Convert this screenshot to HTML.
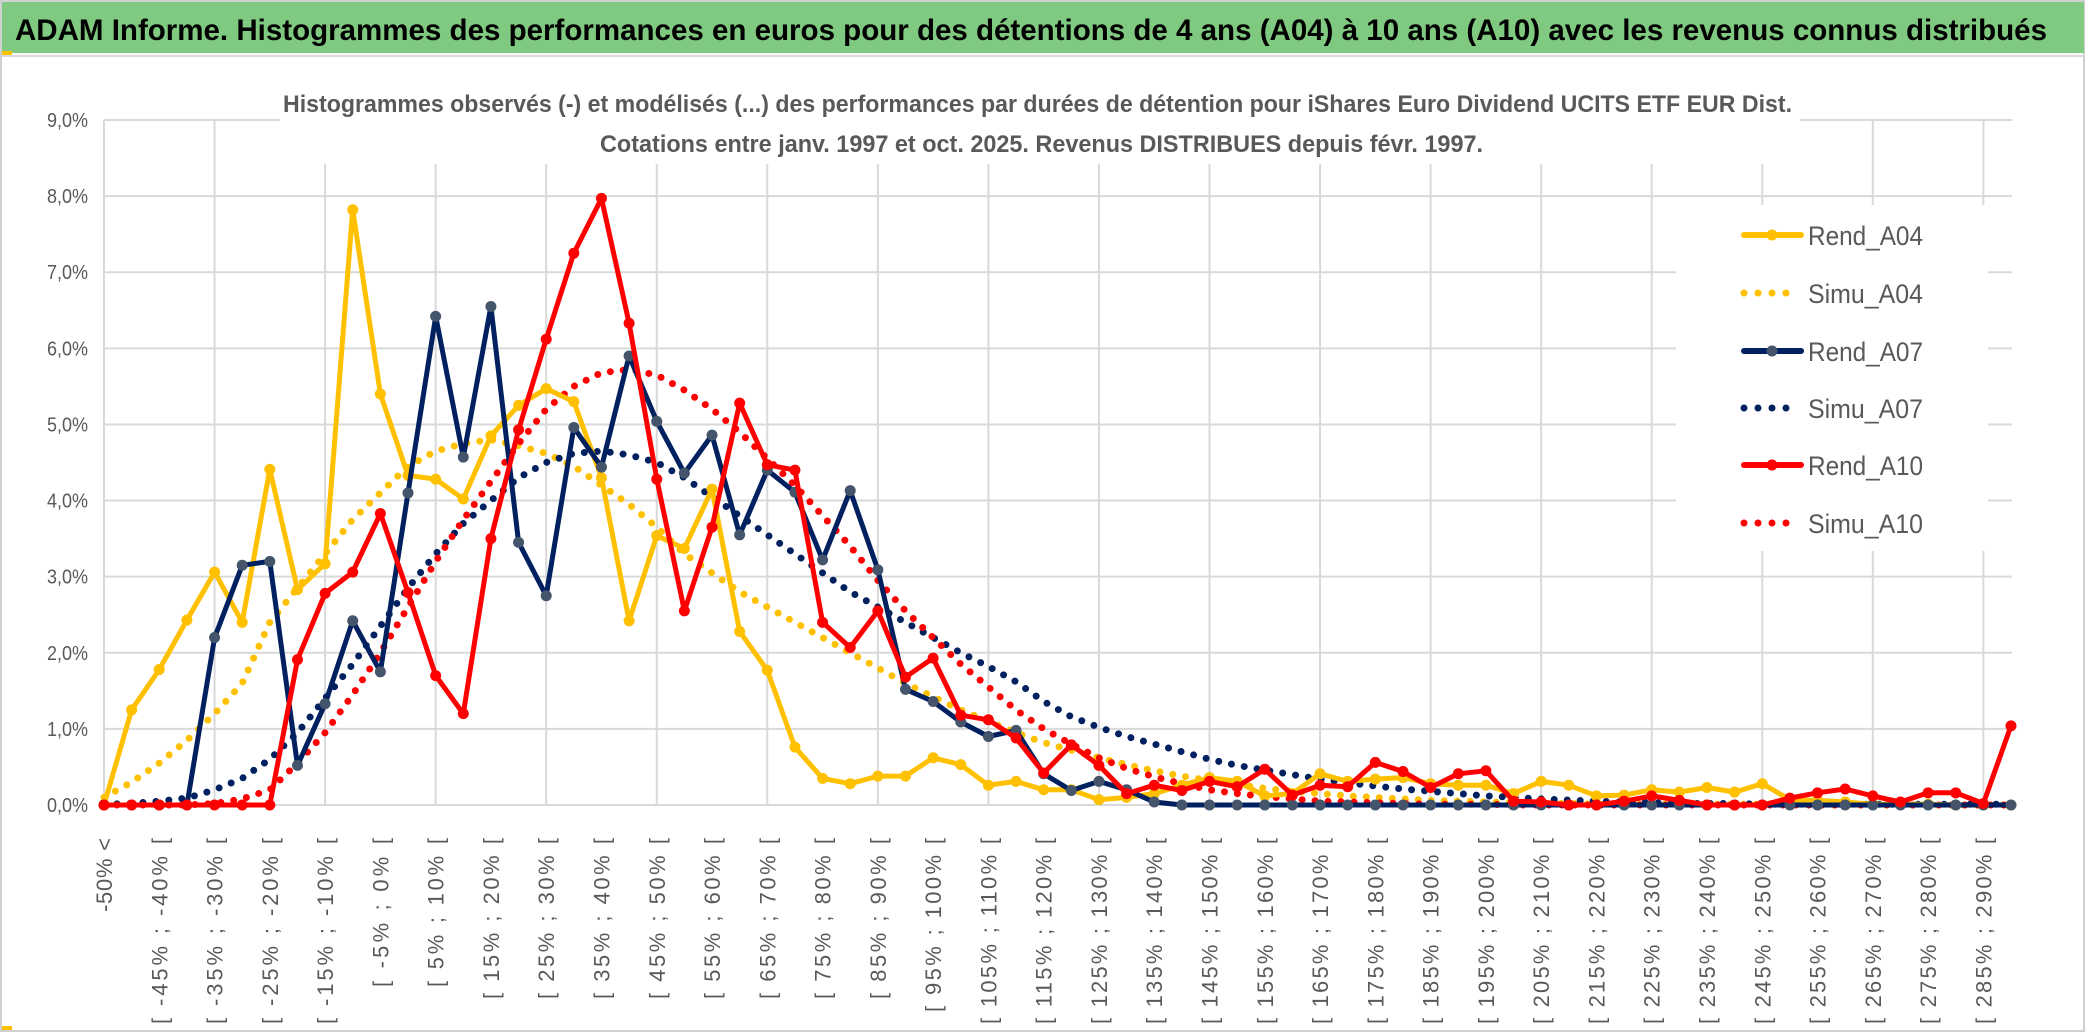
<!DOCTYPE html>
<html><head><meta charset="utf-8">
<style>
html,body{margin:0;padding:0;background:#fff;}
svg{display:block;}
text{font-family:"Liberation Sans",sans-serif;}
</style></head>
<body>
<svg id="chart" width="2086" height="1033" viewBox="0 0 2086 1033" xmlns="http://www.w3.org/2000/svg">
  <rect x="1" y="1" width="2083" height="1030" fill="#fff" stroke="#d0d0d0" stroke-width="2"/>
  <rect x="2" y="2" width="2082" height="51" fill="#80C980"/>
  <line x1="2" y1="56" x2="2084" y2="56" stroke="#d9d9d9" stroke-width="2"/>
  <rect x="2" y="51" width="10" height="4" fill="#FFC000"/>
  <rect x="2" y="1026" width="10" height="4" fill="#FFC000"/>
  <text x="15" y="40" font-size="30" font-weight="bold" fill="#000" textLength="2032" lengthAdjust="spacingAndGlyphs">ADAM Informe. Histogrammes des performances en euros pour des détentions de 4 ans (A04) à 10 ans (A10) avec les revenus connus distribués</text>
  <g id="grid"></g>
  <rect x="280" y="78" width="1520" height="86" fill="#fff"/>
  <text x="283" y="112" font-size="24" font-weight="bold" fill="#595959" textLength="1509" lengthAdjust="spacingAndGlyphs">Histogrammes observés (-) et modélisés (...) des performances par durées de détention pour iShares Euro Dividend UCITS ETF EUR Dist.</text>
  <text x="600" y="152" font-size="24" font-weight="bold" fill="#595959" textLength="883" lengthAdjust="spacingAndGlyphs">Cotations entre janv. 1997 et oct. 2025. Revenus DISTRIBUES depuis févr. 1997.</text>
  <g id="yaxis"></g>
  <g id="xaxis"></g>
  <g id="series"></g>
  <g id="legend">
    <rect x="1676" y="205" width="312" height="346" fill="#fff"/>
  </g>
</svg>
<script>
const categories = ["-50% <","[ -50% ; -45% [","[ -45% ; -40% [","[ -40% ; -35% [","[ -35% ; -30% [","[ -30% ; -25% [","[ -25% ; -20% [","[ -20% ; -15% [","[ -15% ; -10% [","[ -10% ; -5% [","[ -5% ; 0% [","[ 0% ; 5% [","[ 5% ; 10% [","[ 10% ; 15% [","[ 15% ; 20% [","[ 20% ; 25% [","[ 25% ; 30% [","[ 30% ; 35% [","[ 35% ; 40% [","[ 40% ; 45% [","[ 45% ; 50% [","[ 50% ; 55% [","[ 55% ; 60% [","[ 60% ; 65% [","[ 65% ; 70% [","[ 70% ; 75% [","[ 75% ; 80% [","[ 80% ; 85% [","[ 85% ; 90% [","[ 90% ; 95% [","[ 95% ; 100% [","[ 100% ; 105% [","[ 105% ; 110% [","[ 110% ; 115% [","[ 115% ; 120% [","[ 120% ; 125% [","[ 125% ; 130% [","[ 130% ; 135% [","[ 135% ; 140% [","[ 140% ; 145% [","[ 145% ; 150% [","[ 150% ; 155% [","[ 155% ; 160% [","[ 160% ; 165% [","[ 165% ; 170% [","[ 170% ; 175% [","[ 175% ; 180% [","[ 180% ; 185% [","[ 185% ; 190% [","[ 190% ; 195% [","[ 195% ; 200% [","[ 200% ; 205% [","[ 205% ; 210% [","[ 210% ; 215% [","[ 215% ; 220% [","[ 220% ; 225% [","[ 225% ; 230% [","[ 230% ; 235% [","[ 235% ; 240% [","[ 240% ; 245% [","[ 245% ; 250% [","[ 250% ; 255% [","[ 255% ; 260% [","[ 260% ; 265% [","[ 265% ; 270% [","[ 270% ; 275% [","[ 275% ; 280% [","[ 280% ; 285% [","[ 285% ; 290% [","[ 290% ; 295% ["];
const yTicks = [0,1,2,3,4,5,6,7,8,9];
const yTickLabels = ["0,0%","1,0%","2,0%","3,0%","4,0%","5,0%","6,0%","7,0%","8,0%","9,0%"];
const rendA04 = [0,1.25,1.78,2.43,3.06,2.40,4.41,2.83,3.17,7.82,5.40,4.33,4.28,4.02,4.85,5.25,5.47,5.30,4.30,2.42,3.54,3.37,4.15,2.28,1.77,0.76,0.35,0.28,0.38,0.38,0.62,0.53,0.26,0.31,0.20,0.20,0.07,0.10,0.15,0.26,0.36,0.31,0.12,0.15,0.41,0.31,0.34,0.36,0.28,0.26,0.26,0.15,0.31,0.26,0.12,0.13,0.20,0.17,0.23,0.17,0.28,0.07,0.06,0.04,0.01,0.01,0.01,0,0,0];
const simuA04 = [0.10,0.30,0.55,0.85,1.20,1.60,2.40,2.85,3.30,3.75,4.10,4.45,4.65,4.75,4.80,4.72,4.62,4.45,4.20,3.95,3.65,3.30,3.05,2.80,2.60,2.40,2.20,2.00,1.80,1.60,1.42,1.25,1.10,0.95,0.82,0.72,0.62,0.53,0.45,0.38,0.32,0.27,0.22,0.18,0.15,0.12,0.10,0.08,0.06,0.05,0.04,0.03,0.02,0.02,0.01,0.01,0.01,0.01,0.01,0.01,0.01,0.01,0,0,0,0,0,0,0,0];
const rendA07 = [0,0,0,0,2.20,3.15,3.20,0.52,1.33,2.42,1.75,4.10,6.42,4.57,6.55,3.45,2.75,4.96,4.44,5.90,5.04,4.36,4.86,3.55,4.40,4.11,3.22,4.13,3.09,1.52,1.36,1.09,0.90,0.98,0.41,0.19,0.31,0.20,0.04,0,0,0,0,0,0,0,0,0,0,0,0,0,0,0,0,0,0,0,0,0,0,0,0,0,0,0,0,0,0,0];
const simuA07 = [0.01,0.02,0.05,0.09,0.20,0.35,0.60,0.95,1.40,1.85,2.35,2.85,3.30,3.70,4.00,4.30,4.50,4.62,4.65,4.60,4.50,4.30,4.05,3.80,3.55,3.30,3.05,2.80,2.60,2.40,2.20,2.00,1.82,1.62,1.36,1.16,1.02,0.90,0.80,0.70,0.60,0.52,0.46,0.40,0.34,0.29,0.25,0.21,0.18,0.15,0.12,0.10,0.08,0.065,0.05,0.04,0.03,0.02,0.02,0.02,0.01,0.01,0.01,0.01,0.01,0.01,0.01,0.01,0.01,0.01];
const rendA10 = [0,0,0,0,0,0,0,1.91,2.78,3.06,3.83,2.79,1.70,1.20,3.50,4.93,6.12,7.25,7.97,6.33,4.28,2.55,3.65,5.28,4.47,4.40,2.40,2.07,2.55,1.68,1.93,1.18,1.12,0.88,0.42,0.79,0.52,0.15,0.26,0.19,0.31,0.24,0.47,0.13,0.26,0.24,0.56,0.44,0.23,0.41,0.45,0.05,0.04,0,0,0.05,0.12,0.06,0,0,0,0.09,0.16,0.21,0.12,0.04,0.16,0.16,0.02,1.04];
const simuA10 = [0,0,0,0,0.02,0.08,0.20,0.55,0.95,1.45,2.00,2.60,3.20,3.75,4.25,4.75,5.20,5.50,5.68,5.72,5.65,5.45,5.20,4.90,4.55,4.20,3.80,3.40,2.95,2.55,2.20,1.85,1.55,1.25,1.00,0.80,0.62,0.48,0.37,0.28,0.20,0.15,0.11,0.08,0.05,0.04,0.03,0.02,0.01,0.01,0.01,0,0,0,0,0,0,0,0,0,0,0,0,0,0,0,0,0,0,0];

const NS = "http://www.w3.org/2000/svg";
const X0 = 104, X1 = 2011, Y0 = 805, Y9 = 120;
function xPos(i){ return X0 + i * (X1 - X0) / (categories.length - 1); }
function yPos(v){ return Y0 - v * (Y0 - Y9) / 9; }
function mk(tag, attrs, parent){ const e = document.createElementNS(NS, tag); for (const k in attrs) e.setAttribute(k, attrs[k]); parent.appendChild(e); return e; }

const grid = document.getElementById('grid');
yTicks.forEach((t, k) => {
  const l = mk('line', {x1: X0, x2: 2012, y1: yPos(t), y2: yPos(t), stroke: '#d9d9d9', 'stroke-width': 2}, grid);
  
  
});
categories.forEach((c, i) => {
  if (i % 4 === 0) {
    const l = mk('line', {x1: xPos(i), x2: xPos(i), y1: Y9, y2: Y0, stroke: '#d9d9d9', 'stroke-width': 2}, grid);
    
    
  }
});

const yaxis = document.getElementById('yaxis');
yTicks.forEach((t, k) => {
  const tx = mk('text', {x: 88, y: yPos(t) + 7, 'font-size': 20, fill: '#595959', 'text-anchor': 'end', textLength: 41, lengthAdjust: 'spacingAndGlyphs'}, yaxis);
  tx.textContent = yTickLabels[k];
  
  
});

const xaxis = document.getElementById('xaxis');
categories.forEach((c, i) => {
  if (i % 2 !== 0) return;
  const x = xPos(i) + 8, y = 838;
  const tx = mk('text', {x: x, y: y, 'font-size': 22, fill: '#595959', 'text-anchor': 'end', textLength: (c.length * 12.4).toFixed(0), lengthAdjust: 'spacing', transform: 'rotate(-90 ' + x + ' ' + y + ')'}, xaxis);
  tx.textContent = c;
  
  
});

const series = document.getElementById('series');
function pts(arr){ return arr.map((v, i) => xPos(i).toFixed(1) + ',' + yPos(v).toFixed(1)).join(' '); }
function dotted(arr, color, name){
  const p = mk('polyline', {points: pts(arr), fill: 'none', stroke: color, 'stroke-width': 7, 'stroke-linecap': 'round', 'stroke-dasharray': '0 13'}, series);
  
  
}
function solid(arr, color, mcolor, name){
  const g = mk('g', {}, series);
  
  
  mk('polyline', {points: pts(arr), fill: 'none', stroke: color, 'stroke-width': 5, 'stroke-linejoin': 'round'}, g);
  arr.forEach((v, i) => {
    const c = mk('circle', {cx: xPos(i), cy: yPos(v), r: 5.5, fill: mcolor}, g);
    
    
  });
}
dotted(simuA04, '#FFC000', 'simu-a04-line');
dotted(simuA07, '#002060', 'simu-a07-line');
dotted(simuA10, '#FF0000', 'simu-a10-line');
solid(rendA04, '#FFC000', '#FFC000', 'rend-a04-line');
solid(rendA07, '#002060', '#44546A', 'rend-a07-line');
solid(rendA10, '#FF0000', '#FF0000', 'rend-a10-line');

const legend = document.getElementById('legend');
const legendNames = ['Rend_A04','Simu_A04','Rend_A07','Simu_A07','Rend_A10','Simu_A10'];
const legendColors = ['#FFC000','#FFC000','#002060','#002060','#FF0000','#FF0000'];
const legendMarker = ['#FFC000',null,'#44546A',null,'#FF0000',null];
const legendY = [235,293,351,408,465,523];
legendNames.forEach((n, k) => {
  const g = mk('g', {}, legend);
  
  
  const y = legendY[k];
  if (legendMarker[k]) {
    mk('line', {x1: 1744, x2: 1801, y1: y, y2: y, stroke: legendColors[k], 'stroke-width': 6, 'stroke-linecap': 'round'}, g);
    mk('circle', {cx: 1772, cy: y, r: 5.5, fill: legendMarker[k]}, g);
  } else {
    mk('line', {x1: 1744, x2: k === 5 ? 1800 : 1792, y1: y, y2: y, stroke: legendColors[k], 'stroke-width': 7, 'stroke-linecap': 'round', 'stroke-dasharray': '0 14'}, g);
  }
  const tx = mk('text', {x: 1808, y: y + 10, 'font-size': 27, fill: '#595959', textLength: 115, lengthAdjust: 'spacingAndGlyphs'}, g);
  tx.textContent = n;
});
</script>
</body></html>
